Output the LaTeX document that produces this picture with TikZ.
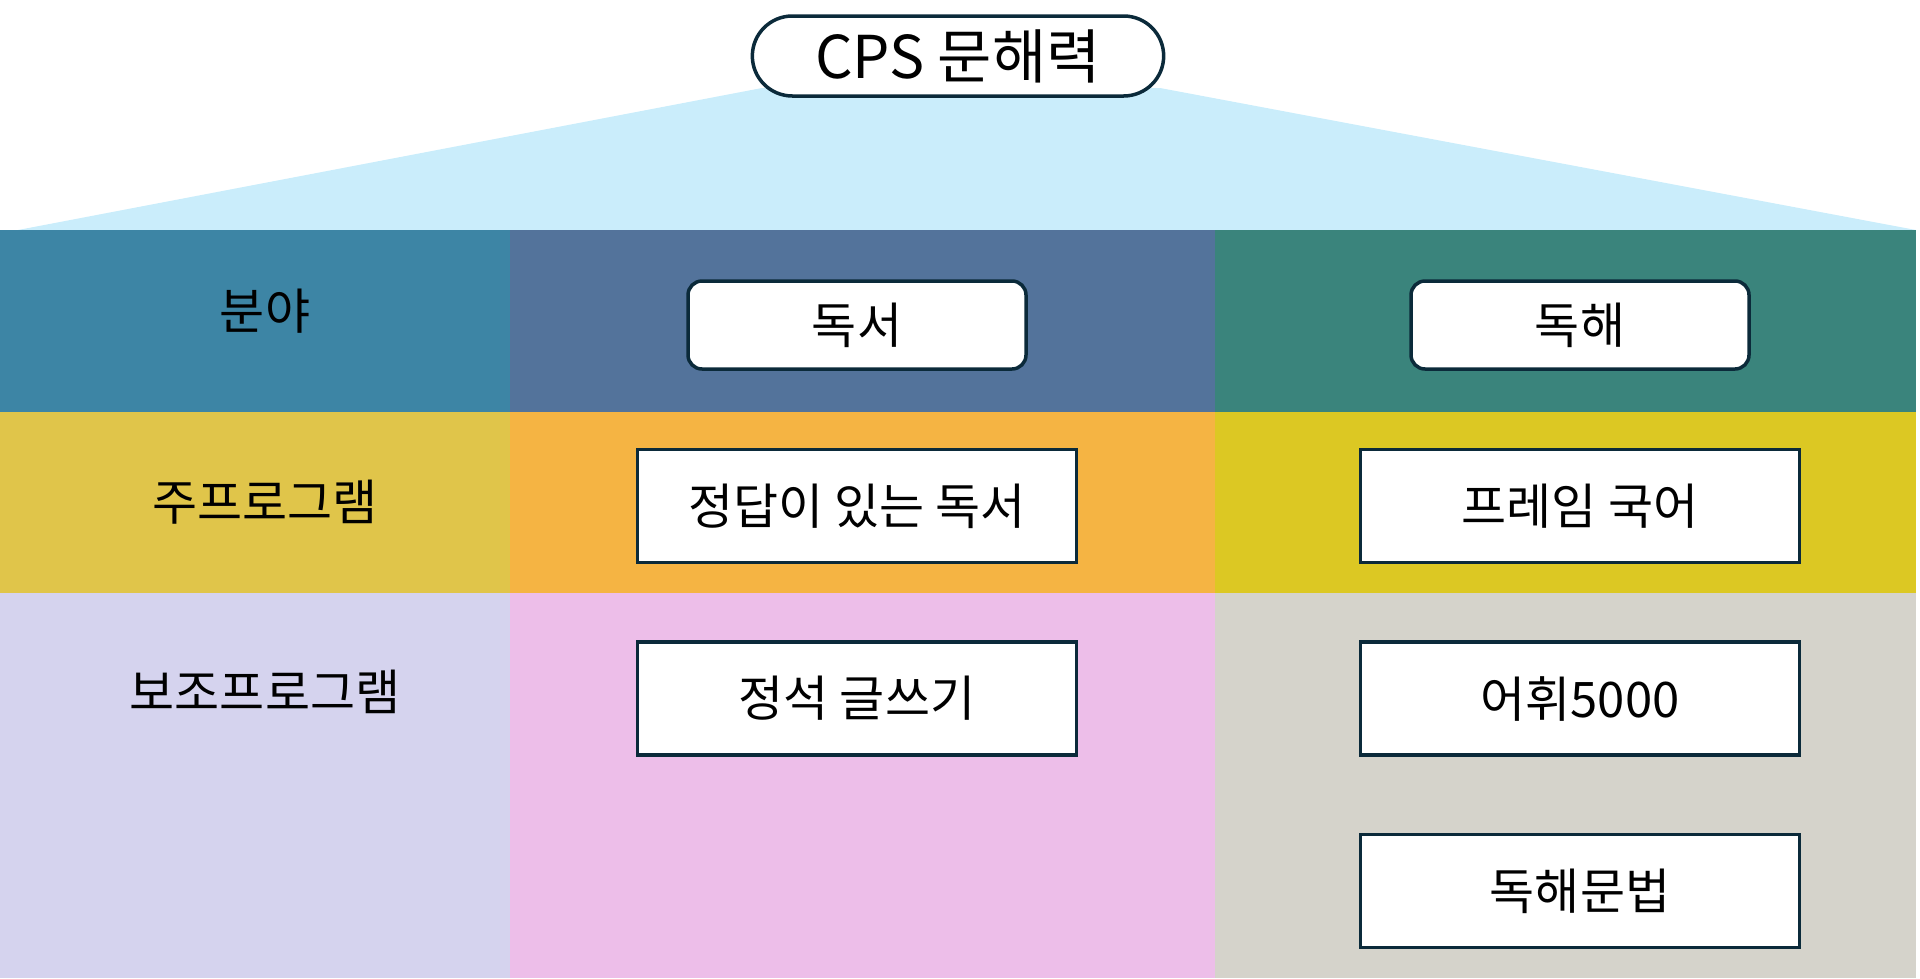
\documentclass[tikz,border=0pt]{standalone}
\usepackage{fontspec}
\setmainfont{Noto Sans CJK KR}
\usetikzlibrary{positioning,shapes.misc}
\definecolor{edge}{HTML}{0B2A3A}
\definecolor{sky}{HTML}{CAEDFB}
\definecolor{fa}{HTML}{3D85A5}
\definecolor{fb}{HTML}{53739B}
\definecolor{fc}{HTML}{3A847C}
\definecolor{ma}{HTML}{E0C54A}
\definecolor{mb}{HTML}{F5B443}
\definecolor{mc}{HTML}{DCC823}
\definecolor{sa}{HTML}{D5D3EE}
\definecolor{sb}{HTML}{EDBEE9}
\definecolor{sc}{HTML}{D5D3CB}
\begin{document}
\begin{tikzpicture}[x=1pt, y=-1pt,
        head/.style={font=\fontsize{49}{55}\selectfont},
        top/.style={draw=edge, line width=3.5pt, fill=white, rounded rectangle, minimum width=418pt, minimum height=80pt, font=\fontsize{59}{65}\selectfont},
        field/.style={draw=edge, line width=3.5pt, fill=white, rounded corners=14pt, minimum width=338pt, minimum height=88pt, head},
        prog/.style={draw=edge, line width=3.5pt, fill=white, minimum width=439pt, minimum height=113pt, head}
    ]
        \useasboundingbox (0,0) rectangle (1920,978);
        \fill[sky] (18,230) -- (762,88) -- (1160,88) -- (1916,230) -- cycle;
        \foreach \ya/\yb/\ca/\cb/\cc in {230/412/fa/fb/fc, 412/593/ma/mb/mc, 593/978/sa/sb/sc} {
            \fill[\ca] (0,\ya) rectangle (510,\yb);
            \fill[\cb] (510,\ya) rectangle (1215,\yb);
            \fill[\cc] (1215,\ya) rectangle (1916,\yb);
        }

        \node [top] (cps) at (958,56) {CPS 문해력};

        \node [head] (area) at (265,311) {분야};
        \node [head] (main) at (265,502) {주프로그램};
        \node [head] (sub) at (265,692) {보조프로그램};

        \node [field] (read) at (857,325) {독서};
        \node [field] (comp) at (1580,325) {독해};
        \node [prog] (ans) at (857,506) {정답이 있는 독서};
        \node [prog] (frame) at (1580,506) {프레임 국어};
        \node [prog, below=76pt of ans] (write) {정석 글쓰기};
        \node [prog, below=76pt of frame] (word) {어휘5000};
        \node [prog, below=76pt of word] (gram) {독해문법};
    \end{tikzpicture}
\end{document}
